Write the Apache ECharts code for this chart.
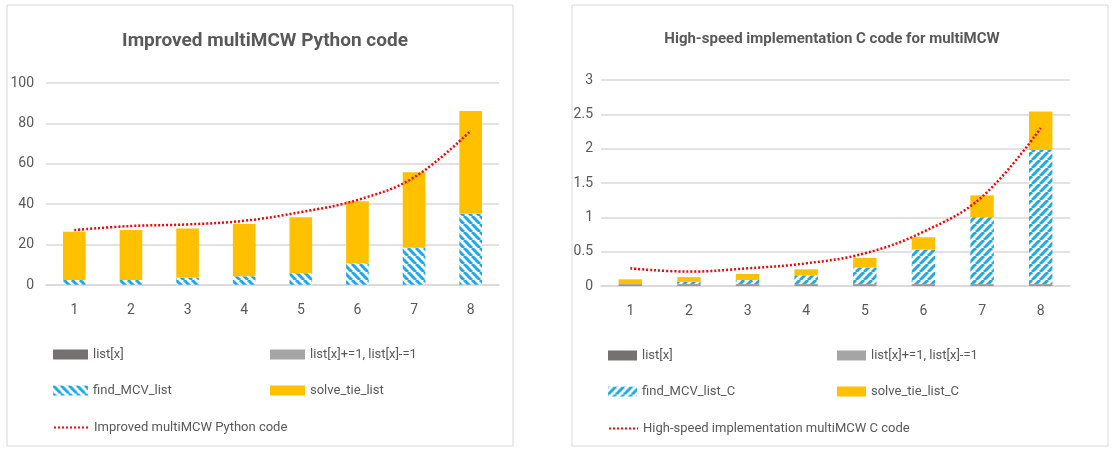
<!DOCTYPE html>
<html>
<head>
<meta charset="utf-8">
<script src="https://cdn.jsdelivr.net/npm/echarts@6/dist/echarts.min.js"></script>
<style>
  html, body { margin: 0; padding: 0; background: #fff; }
  #chart { width: 1113px; height: 452px; }
</style>
</head>
<body>
<div id="chart"></div>
<script>
// categories (problem size index)
const categories = ["1", "2", "3", "4", "5", "6", "7", "8"];

// left: Improved multiMCW Python code (seconds)
const pyListX = [0.1, 0.1, 0.1, 0.1, 0.1, 0.1, 0.1, 0.1];
const pyListInc = [0.1, 0.1, 0.1, 0.1, 0.1, 0.1, 0.1, 0.1];
const pyFindMcv = [2.3, 2.3, 3.4, 4.1, 5.6, 10.5, 18.3, 35.1];
const pySolveTie = [23.9, 24.7, 24.4, 25.9, 27.7, 30.7, 37.3, 50.8];
const pyTotal = [27.2, 29.2, 30.0, 31.8, 36.1, 42.1, 53.3, 76.4];

// right: High-speed implementation C code for multiMCW (seconds)
const cListX = [0.01, 0.01, 0.01, 0.01, 0.01, 0.01, 0.01, 0.01];
const cListInc = [0.02, 0.02, 0.02, 0.02, 0.02, 0.02, 0.02, 0.02];
const cFindMcv = [0.0, 0.03, 0.057, 0.125, 0.24, 0.5, 0.97, 1.95];
const cSolveTie = [0.067, 0.069, 0.088, 0.088, 0.14, 0.18, 0.32, 0.56];
const cTotal = [0.257, 0.21, 0.257, 0.33, 0.476, 0.79, 1.30, 2.30];

const TEXT = "#595959";
const GRID_LINE = "#D9D9D9";
const YELLOW = "#FFC000";
const BLUE = "#1BA9E8";

// use the narrowest installed font (the picture uses a condensed one)
const ctx = document.createElement("canvas").getContext("2d");
function textWidth (font, s) {
  ctx.font = font;
  return ctx.measureText(s).width;
}
const probe = "Improved multiMCW Python code";
function hasFont (f) {
  const s = "abcdefghijklmnopqrstuvwxyz0123456789";
  return ["monospace", "serif"].some((b) => textWidth("72px '" + f + "', " + b, s) !== textWidth("72px " + b, s));
}
const family = ["Liberation Sans Narrow", "DejaVu Sans Condensed", "Lato", "Roboto"]
  .filter(hasFont)
  .sort((a, b) => textWidth("20px '" + a + "'", probe) - textWidth("20px '" + b + "'", probe))[0] || "sans-serif";
const FONT = "'" + family + "', sans-serif";
// size so that a text spans about the width it has in the picture
function fitSize (s, target, weight, lo) {
  const v = 20 * target / textWidth((weight || "normal") + " 20px " + FONT, s);
  return Math.max(lo, Math.min(23, v));
}
const legendSize = fitSize(probe, 173, "normal", 13);

function hatch (back) {
  const s = 8;
  const c = document.createElement("canvas");
  c.width = s;
  c.height = s;
  const g = c.getContext("2d");
  g.fillStyle = "#fff";
  g.fillRect(0, 0, s, s);
  g.strokeStyle = BLUE;
  g.lineWidth = 3;
  for (let k = -1; k <= 1; k++) {
    g.beginPath();
    if (back) {
      g.moveTo(k * s, 0);
      g.lineTo(k * s + s, s);
    } else {
      g.moveTo(k * s, s);
      g.lineTo(k * s + s, 0);
    }
    g.stroke();
  }
  return { image: c, repeat: "repeat" };
}

function barSeries (name, data, idx, color, stack) {
  return {
    name: name,
    type: "bar",
    stack: stack,
    xAxisIndex: idx,
    yAxisIndex: idx,
    barWidth: "40%",
    itemStyle: { color: color },
    data: data,
  };
}

function lineSeries (name, data, idx) {
  return {
    name: name,
    type: "line",
    xAxisIndex: idx,
    yAxisIndex: idx,
    smooth: 0.4,
    symbol: "none",
    lineStyle: { color: "#FF0000", width: 2.5, type: [2, 2] },
    itemStyle: { color: "#FF0000" },
    data: data,
  };
}

function legendItem (name, left, top, w, isLine) {
  return {
    data: [isLine ? { name: name, itemStyle: { opacity: 0 } } : { name: name, icon: "rect" }],
    left: left,
    top: top,
    itemWidth: w,
    itemHeight: 10,
    itemGap: 4,
    selectedMode: false,
    textStyle: { color: TEXT, fontSize: legendSize, fontFamily: FONT },
  };
}

const chart = echarts.init(document.getElementById("chart"));

const axisLabel = { color: TEXT, fontSize: 14, fontFamily: FONT };

const option = {
  animation: false,
  backgroundColor: "#fff",
  graphic: [
    { type: "rect", shape: { x: 7, y: 5, width: 506, height: 441 }, style: { fill: "none", stroke: "#D9D9D9", lineWidth: 1 } },
    { type: "rect", shape: { x: 572, y: 5, width: 536, height: 441 }, style: { fill: "none", stroke: "#D9D9D9", lineWidth: 1 } },
  ],
  title: [
    {
      text: "Improved multiMCW Python code",
      left: 260,
      top: 27,
      textAlign: "center",
      textStyle: { color: TEXT, fontSize: fitSize("Improved multiMCW Python code", 269, "bold", 19), fontWeight: "bold", fontFamily: FONT },
    },
    {
      text: "High-speed implementation C code for multiMCW",
      left: 827,
      top: 27,
      textAlign: "center",
      textStyle: { color: TEXT, fontSize: fitSize("High-speed implementation C code for multiMCW", 297, "bold", 15), fontWeight: "bold", fontFamily: FONT },
    },
  ],
  legend: [
    legendItem("list[x]", 48, 343, 35),
    legendItem("list[x]+=1, list[x]-=1", 265, 343, 35),
    legendItem("find_MCV_list", 48, 379, 35),
    legendItem("solve_tie_list", 265, 379, 35),
    legendItem("Improved multiMCW Python code", 48, 416, 35, true),
    legendItem("list[x] ", 603, 344, 29),
    legendItem("list[x]+=1, list[x]-=1 ", 832, 344, 29),
    legendItem("find_MCV_list_C", 603, 380, 29),
    legendItem("solve_tie_list_C", 832, 380, 29),
    legendItem("High-speed implementation multiMCW C code", 603, 417, 29, true),
  ],
  grid: [
    { left: 46, right: 614, top: 83, bottom: 167 },
    { left: 601, right: 43, top: 80, bottom: 166 },
  ],
  xAxis: [0, 1].map((i) => ({
    type: "category",
    gridIndex: i,
    data: categories,
    axisLine: { lineStyle: { color: GRID_LINE, width: 1.5 } },
    axisTick: { show: false },
    axisLabel: Object.assign({ margin: 18 }, axisLabel),
  })),
  yAxis: [
    {
      type: "value",
      gridIndex: 0,
      min: 0,
      max: 100,
      interval: 20,
      axisLine: { show: false },
      axisTick: { show: false },
      axisLabel: Object.assign({ margin: 12 }, axisLabel),
      splitLine: { lineStyle: { color: GRID_LINE, width: 1.5 } },
    },
    {
      type: "value",
      gridIndex: 1,
      min: 0,
      max: 3,
      interval: 0.5,
      axisLine: { show: false },
      axisTick: { show: false },
      axisLabel: Object.assign({ margin: 8 }, axisLabel),
      splitLine: { lineStyle: { color: GRID_LINE, width: 1.5 } },
    },
  ],
  series: [
    barSeries("list[x]", pyListX, 0, "#767171", "py"),
    barSeries("list[x]+=1, list[x]-=1", pyListInc, 0, "#A5A5A5", "py"),
    barSeries("find_MCV_list", pyFindMcv, 0, hatch(true), "py"),
    barSeries("solve_tie_list", pySolveTie, 0, YELLOW, "py"),
    lineSeries("Improved multiMCW Python code", pyTotal, 0),
    barSeries("list[x] ", cListX, 1, "#767171", "c"),
    barSeries("list[x]+=1, list[x]-=1 ", cListInc, 1, "#A5A5A5", "c"),
    barSeries("find_MCV_list_C", cFindMcv, 1, hatch(false), "c"),
    barSeries("solve_tie_list_C", cSolveTie, 1, YELLOW, "c"),
    lineSeries("High-speed implementation multiMCW C code", cTotal, 1),
  ],
};

chart.setOption(option);
</script>
</body>
</html>
